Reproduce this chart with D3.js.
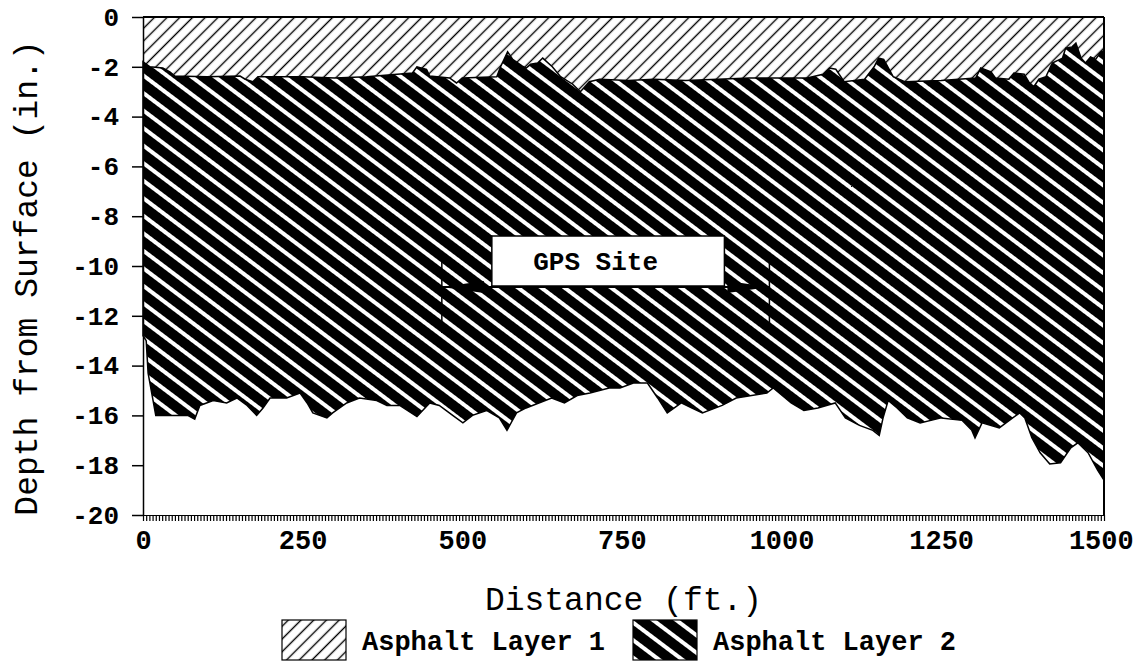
<!DOCTYPE html>
<html>
<head>
<meta charset="utf-8">
<script src="https://cdnjs.cloudflare.com/ajax/libs/d3/7.8.5/d3.min.js"></script>
<style>
  body { margin: 0; background: #fff; }
  text { font-family: "Liberation Mono", "Courier New", monospace; fill: #000; }
</style>
</head>
<body>
<div id="chart"></div>
<script>
// bottom of layer 1 / top of layer 2, distance (ft) and depth (in.)
var interfaceDist = [0, 11, 31, 42, 50, 100, 152, 160, 172, 180, 250, 300, 350, 422, 429, 444, 449, 480, 491, 500,
  554, 560, 571, 579, 593, 600, 607, 618, 626, 641, 654, 673, 685, 699, 715, 760, 800, 850, 900, 950, 1000,
  1040, 1065, 1075, 1085, 1098, 1130, 1145, 1152, 1160, 1175, 1193, 1250, 1304, 1312, 1328, 1335, 1356,
  1364, 1380, 1387, 1395, 1403, 1414, 1424, 1440, 1445, 1455, 1461, 1469, 1476, 1484, 1492, 1500, 1505];
var interfaceDepth = [-1.8, -2.0, -2.05, -2.2, -2.37, -2.4, -2.37, -2.5, -2.6, -2.4, -2.4, -2.45, -2.4, -2.25, -2.0, -2.1, -2.37, -2.45, -2.65, -2.45,
  -2.4, -2.0, -1.4, -1.7, -1.95, -2.05, -1.9, -1.85, -1.65, -2.0, -2.4, -2.7, -3.0, -2.6, -2.5, -2.55, -2.5, -2.55, -2.5, -2.45, -2.45,
  -2.45, -2.3, -2.05, -2.1, -2.6, -2.5, -2.0, -1.65, -1.7, -2.4, -2.6, -2.55, -2.45, -2.05, -2.2, -2.45, -2.5,
  -2.25, -2.3, -2.6, -2.8, -2.5, -2.4, -1.85, -1.65, -1.25, -1.2, -1.05, -1.65, -1.85, -1.6, -1.7, -1.4, -1.35];

// bottom of layer 2
var bottomDist = [0, 5, 8, 20, 40, 70, 81, 89, 110, 131, 147, 163, 178, 188, 199, 225, 246, 257, 266, 288, 297,
  319, 339, 366, 382, 402, 429, 449, 464, 485, 501, 516, 538, 558, 570, 585, 600, 620, 640, 660, 680, 700,
  730, 747, 768, 790, 806, 821, 843, 859, 876, 907, 929, 977, 987, 1015, 1035, 1057, 1084, 1100, 1122,
  1143, 1153, 1159, 1167, 1181, 1197, 1217, 1250, 1283, 1298, 1303, 1314, 1341, 1362, 1373, 1381, 1392,
  1405, 1420, 1437, 1453, 1464, 1480, 1495, 1505];
var bottomDepth = [-12.8, -13.0, -14.3, -16.0, -16.0, -16.0, -16.15, -15.6, -15.4, -15.5, -15.3, -15.6, -16.0, -15.7, -15.3, -15.3, -15.1, -15.5, -15.9, -16.1, -15.9,
  -15.5, -15.3, -15.4, -15.6, -15.6, -16.05, -15.5, -15.6, -16.0, -16.3, -16.0, -15.8, -16.1, -16.6, -15.9, -15.7, -15.5, -15.3, -15.5, -15.2, -15.1,
  -14.9, -14.9, -14.7, -14.7, -15.3, -15.9, -15.5, -15.7, -15.9, -15.6, -15.3, -15.1, -14.9, -15.5, -15.8, -15.7, -15.5, -16.1, -16.4,
  -16.6, -16.8, -16.1, -15.4, -15.7, -16.1, -16.3, -16.1, -16.2, -16.6, -16.9, -16.3, -16.5, -16.1, -15.9, -16.1, -16.9,
  -17.5, -17.95, -17.9, -17.3, -17.1, -17.5, -18.2, -18.6];

var depthTicks = d3.range(-20, 1, 2);
var distTicks = [0, 250, 500, 750, 1000, 1250, 1500];
var gpsSite = [468, 981];
var legendLabels = ["Asphalt Layer 1", "Asphalt Layer 2"];

function make_profile() {
  var width = 1139,
    height = 670;

  var x = d3.scaleLinear().domain([0, 1505]).range([143, 1104]);
  var y = d3.scaleLinear().domain([-20, 0]).range([515, 17]);

  var svg = d3.select("#chart")
    .append("svg")
    .attr("width", width)
    .attr("height", height);

  // hatch patterns for the two layers
  var defs = svg.append("defs");
  var p1 = defs.append("pattern")
    .attr("id", "hatch1")
    .attr("patternUnits", "userSpaceOnUse")
    .attr("width", 9).attr("height", 9)
    .attr("patternTransform", "rotate(-45)");
  p1.append("rect").attr("width", 9).attr("height", 9).attr("fill", "#fff");
  p1.append("line").attr("x1", 0).attr("x2", 9).attr("y1", 4.5).attr("y2", 4.5)
    .attr("stroke", "#000").attr("stroke-width", 1.4);

  var p2 = defs.append("pattern")
    .attr("id", "hatch2")
    .attr("patternUnits", "userSpaceOnUse")
    .attr("width", 14).attr("height", 14)
    .attr("patternTransform", "rotate(37)");
  p2.append("rect").attr("width", 14).attr("height", 14).attr("fill", "#000");
  p2.append("rect").attr("width", 14).attr("height", 4).attr("fill", "#fff");

  var top = interfaceDist.map(function(d, i) { return [d, interfaceDepth[i]]; });
  var bottom = bottomDist.map(function(d, i) { return [d, bottomDepth[i]]; });

  // layer 1 : surface down to interface
  var area1 = d3.area()
    .x(function(d) { return x(d[0]); })
    .y0(y(0))
    .y1(function(d) { return y(d[1]); });
  svg.append("path")
    .datum(top)
    .attr("d", area1)
    .attr("fill", "url(#hatch1)");

  // layer 2 : interface down to bottom
  var line = d3.line()
    .x(function(d) { return x(d[0]); })
    .y(function(d) { return y(d[1]); });
  svg.append("path")
    .attr("d", line(top.concat(bottom.slice().reverse())) + "Z")
    .attr("fill", "url(#hatch2)")
    .attr("stroke", "#000")
    .attr("stroke-width", 1.5);

  // frame top and right
  svg.append("line")
    .attr("x1", x(0)).attr("x2", x(1505))
    .attr("y1", y(0)).attr("y2", y(0))
    .attr("stroke", "#000").attr("stroke-width", 2);
  svg.append("line")
    .attr("x1", x(1505)).attr("x2", x(1505))
    .attr("y1", y(0)).attr("y2", y(-20))
    .attr("stroke", "#000").attr("stroke-width", 2);

  // y axis
  var yAxis = svg.append("g")
    .attr("transform", "translate(" + x(0) + ",0)")
    .call(d3.axisLeft(y).tickValues(depthTicks).tickSize(11).tickSizeOuter(0).tickPadding(13)
      .tickFormat(function(d) { return String(d); }));
  yAxis.selectAll("path, line").attr("stroke", "#000").attr("stroke-width", 1.5);
  yAxis.selectAll("text")
    .style("font-family", "Liberation Mono")
    .style("font-weight", "bold")
    .style("font-size", "26px");

  // x axis, dense comb of minor ticks
  var xMinor = svg.append("g")
    .attr("transform", "translate(0," + y(-20) + ")")
    .call(d3.axisBottom(x).tickValues(d3.range(0, 1506, 5)).tickSize(6).tickSizeOuter(0)
      .tickFormat(""));
  xMinor.selectAll("path, line").attr("stroke", "#000").attr("stroke-width", 1.2);

  var xAxis = svg.append("g")
    .attr("transform", "translate(0," + y(-20) + ")")
    .call(d3.axisBottom(x).tickValues(distTicks).tickSize(0).tickPadding(15)
      .tickFormat(function(d) { return String(d); }));
  xAxis.select(".domain").remove();
  xAxis.selectAll("text")
    .style("font-family", "Liberation Mono")
    .style("font-weight", "bold")
    .style("font-size", "27px");

  // axis titles
  svg.append("text")
    .attr("transform", "translate(37," + (y(-10) + 12) + ") rotate(-90)")
    .attr("text-anchor", "middle")
    .style("font-size", "33px")
    .text("Depth from Surface (in.)");
  svg.append("text")
    .attr("x", (x(0) + x(1505)) / 2)
    .attr("y", 610)
    .attr("text-anchor", "middle")
    .style("font-size", "33px")
    .text("Distance (ft.)");

  // GPS site marker
  var gy = 287;
  gpsSite.forEach(function(d) {
    svg.append("line")
      .attr("x1", x(d)).attr("x2", x(d))
      .attr("y1", 252).attr("y2", 333)
      .attr("stroke", "#000").attr("stroke-width", 1.5);
  });
  var gx0 = x(gpsSite[0]), gx1 = x(gpsSite[1]);
  svg.append("line")
    .attr("x1", gx0).attr("x2", gx1)
    .attr("y1", gy).attr("y2", gy)
    .attr("stroke", "#000").attr("stroke-width", 2);
  svg.append("path")
    .attr("d", "M" + gx0 + "," + gy + "L" + (gx0 + 42) + "," + (gy - 6) + "L" + (gx0 + 42) + "," + (gy + 6) + "Z")
    .attr("fill", "#000");
  svg.append("path")
    .attr("d", "M" + gx1 + "," + gy + "L" + (gx1 - 42) + "," + (gy - 6) + "L" + (gx1 - 42) + "," + (gy + 6) + "Z")
    .attr("fill", "#000");
  svg.append("rect")
    .attr("x", gx0 + 50).attr("y", 236)
    .attr("width", gx1 - gx0 - 95).attr("height", 50)
    .attr("fill", "#fff").attr("stroke", "#000").attr("stroke-width", 1.5);
  svg.append("text")
    .attr("x", (gx0 + gx1) / 2 - 10)
    .attr("y", 270)
    .attr("text-anchor", "middle")
    .style("font-weight", "bold")
    .style("font-size", "26px")
    .text("GPS Site");

  // legend
  var legendX = [282, 633];
  var legend = svg.selectAll(".legend")
    .data(legendLabels)
    .enter()
    .append("g")
    .attr("class", "legend")
    .attr("transform", function(d, i) { return "translate(" + legendX[i] + ",620)"; });
  legend.append("rect")
    .attr("width", 64).attr("height", 40)
    .attr("fill", function(d, i) { return i == 0 ? "url(#hatch1)" : "url(#hatch2)"; })
    .attr("stroke", "#000").attr("stroke-width", 1.2);
  legend.append("text")
    .attr("x", 80)
    .attr("y", 30)
    .style("font-weight", "bold")
    .style("font-size", "27px")
    .text(function(d) { return d; });
}

make_profile();
</script>
</body>
</html>
